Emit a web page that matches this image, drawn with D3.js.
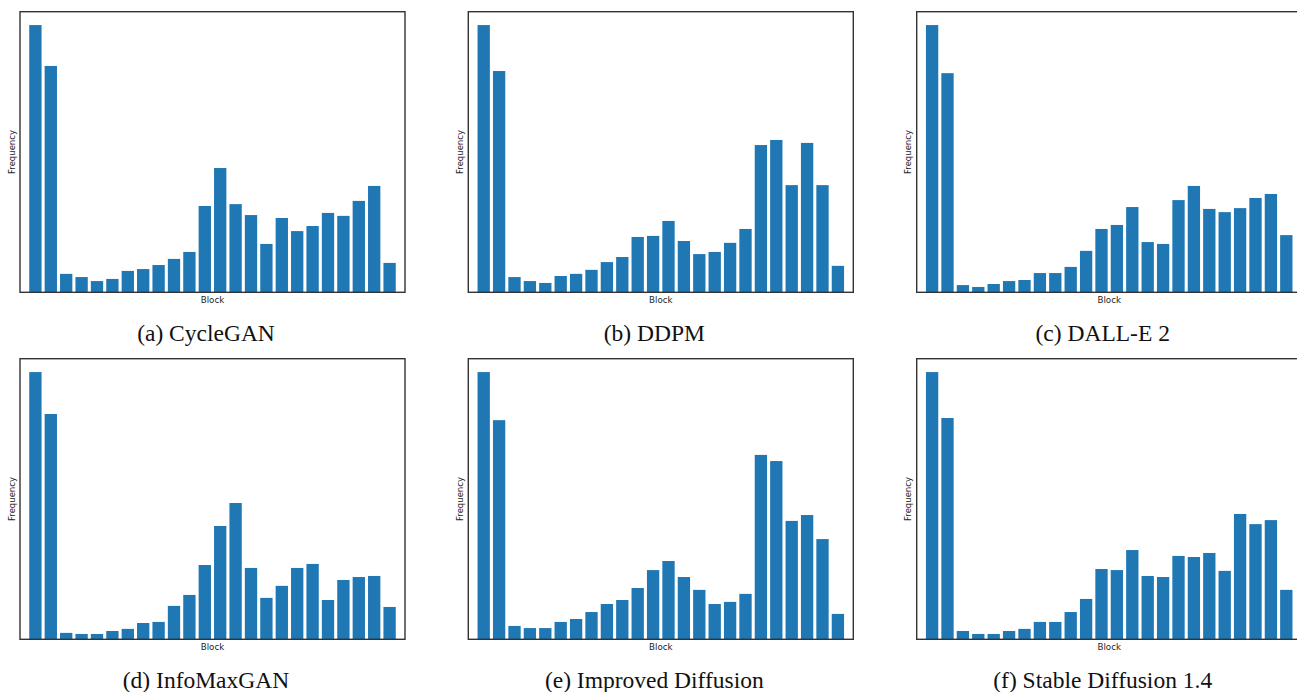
<!DOCTYPE html>
<html>
<head>
<meta charset="utf-8">
<script src="https://cdn.jsdelivr.net/npm/d3@7"></script>
<style>
  html, body { margin: 0; padding: 0; background: #fff; }
  svg { display: block; }
</style>
</head>
<body>
<svg id="chart" width="1297" height="692"></svg>
<script>
// ---- data (relative frequency per block, tallest bar = 100) ----
const blocks = d3.range(1, 25);
const captions = ["(a) CycleGAN", "(b) DDPM", "(c) DALL-E 2", "(d) InfoMaxGAN", "(e) Improved Diffusion", "(f) Stable Diffusion 1.4"];
const cycleGAN = [100, 84.7, 6.9, 5.7, 4.2, 5.0, 8.0, 8.7, 10.2, 12.5, 15.1, 32.3, 46.5, 33.0, 28.9, 18.1, 27.8, 22.9, 24.8, 29.7, 28.6, 34.2, 39.8, 11.0];
const ddpm = [100, 82.8, 5.7, 4.2, 3.5, 6.1, 6.9, 8.4, 11.3, 13.2, 20.7, 21.1, 26.7, 19.2, 14.3, 15.1, 18.5, 23.7, 55.1, 57.0, 40.1, 55.9, 40.1, 9.9];
const dalle2 = [100, 82.0, 2.7, 2.0, 3.1, 4.2, 4.6, 7.2, 7.2, 9.5, 15.5, 23.7, 25.2, 31.9, 18.8, 18.1, 34.5, 39.8, 31.2, 30.0, 31.5, 35.3, 36.8, 21.4];
const infoMaxGAN = [100, 84.3, 2.4, 2.0, 2.0, 3.1, 3.9, 6.1, 6.5, 12.5, 16.6, 27.8, 42.4, 51.0, 26.7, 15.5, 20.0, 26.7, 28.2, 14.7, 22.2, 23.3, 23.7, 12.1];
const improvedDiffusion = [100, 82.0, 5.0, 4.2, 4.2, 6.5, 7.6, 10.2, 13.2, 14.7, 19.2, 25.9, 29.3, 23.3, 18.5, 13.2, 14.0, 17.0, 69.0, 66.7, 44.3, 46.5, 37.5, 9.5];
const stableDiffusion = [100, 82.8, 3.1, 2.0, 2.0, 3.1, 3.9, 6.5, 6.5, 10.2, 15.1, 26.3, 25.9, 33.4, 23.7, 23.3, 31.2, 30.8, 32.3, 25.6, 46.9, 43.1, 44.6, 18.5];
const seriesList = [cycleGAN, ddpm, dalle2, infoMaxGAN, improvedDiffusion, stableDiffusion];

// ---- layout ----
const svg = d3.select("#chart");
const panelW = 385, panelH = 280.6;
const colX = [20, 468.3, 916.7];
const rowY = [11.7, 358.7];

seriesList.forEach((vals, i) => {
  const left = colX[i % 3], top = rowY[Math.floor(i / 3)];
  const g = svg.append("g").attr("transform", `translate(${left},${top})`);

  const x = d3.scaleLinear().domain([0, 25]).range([0, panelW]);
  const y = d3.scaleLinear().domain([0, 1.05 * d3.max(vals)]).range([panelH, 0]);
  const bw = x(0.8) - x(0);

  g.selectAll("rect.bar").data(vals).join("rect")
    .attr("class", "bar")
    .attr("x", (d, j) => x(blocks[j]) - bw / 2)
    .attr("width", bw)
    .attr("y", d => y(d))
    .attr("height", d => panelH - y(d))
    .attr("fill", "#1f77b4");

  // frame (spines)
  g.append("rect")
    .attr("x", 0).attr("y", 0).attr("width", panelW).attr("height", panelH)
    .attr("fill", "none").attr("stroke", "#333").attr("stroke-width", 1.4);

  g.append("text")
    .attr("transform", `translate(-5.4,${panelH / 2}) rotate(-90)`)
    .attr("text-anchor", "middle")
    .attr("font-family", "DejaVu Sans")
    .attr("font-size", 8.5)
    .attr("fill", "#222")
    .text("Frequency");

  g.append("text")
    .attr("x", panelW / 2).attr("y", panelH + 10.6)
    .attr("text-anchor", "middle")
    .attr("font-family", "DejaVu Sans")
    .attr("font-size", 8.7)
    .attr("fill", "#222")
    .text("Block");

  g.append("text")
    .attr("x", 186).attr("y", panelH + 48.8)
    .attr("text-anchor", "middle")
    .attr("font-family", "Liberation Serif")
    .attr("font-size", 23.5)
    .attr("fill", "#111")
    .text(captions[i]);
});
</script>
</body>
</html>
